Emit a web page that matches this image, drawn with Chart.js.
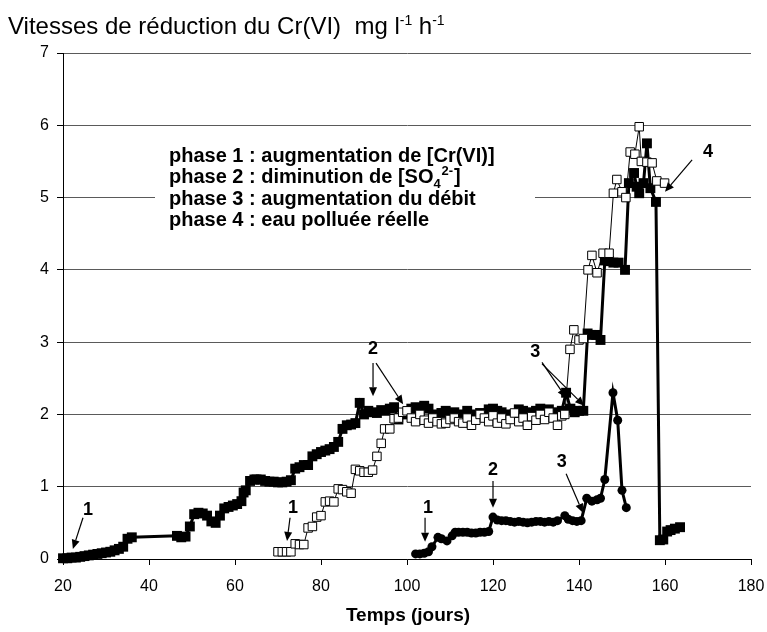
<!DOCTYPE html>
<html><head><meta charset="utf-8">
<script src="https://cdn.jsdelivr.net/npm/chart.js@4.4.1/dist/chart.umd.min.js"></script>
<style>html,body{margin:0;padding:0;background:#fff;}#wrap{width:767px;height:632px;position:relative;}</style>
</head><body><div id="wrap"><canvas id="c" width="767" height="632"></canvas></div>
<script>
// ---------- data ----------
const xTicks = [20, 40, 60, 80, 100, 120, 140, 160, 180];
const yTicks = [0, 1, 2, 3, 4, 5, 6, 7];

// series 1 : filled squares (thick line)
const filledDays = [20,21,22,23,24,25,26,27,28,29,30,31,32,33,34,35,36,
  46.5,47.5,48.5,49.5,50.5,51.5,52.5,53.5,54.5,55.5,56.5,57.5,58.5,59.5,60.5,61.5,62,62.5,63.5,64.5,
  65,66,67,68,69,70,71,72,73,74,75,76,77,78,79,80,81,82,83,84,85,86,87,88,89,90,91,92,93,94,95,96,97,98,99,
  100,101,102,103,104,105,106,107,108,109,110,111,112,113,114,115,116,117,118,119,120,
  121,122,123,124,125,126,127,128,129,130,131,132,133,134,135,136,137,138,139,140,141,
  142,143,144,145,146,147,148,149.2,150.7,151.6,152.8,153.4,154,155,155.8,156.6,157.9,
  158.8,159.6,160.5,161.3,162.3,163.5];
const filledRates = [0.01,0.01,0.02,0.02,0.03,0.04,0.05,0.06,0.07,0.08,0.09,0.1,0.12,0.14,0.17,0.28,0.3,
  0.32,0.3,0.31,0.45,0.62,0.64,0.63,0.6,0.52,0.5,0.6,0.7,0.72,0.74,0.76,0.8,0.92,0.95,1.08,1.1,
  1.1,1.1,1.08,1.07,1.07,1.06,1.06,1.07,1.09,1.25,1.27,1.3,1.3,1.42,1.45,1.48,1.5,1.52,1.55,1.62,1.8,1.85,1.86,1.88,2.16,2.0,2.05,2.03,2.02,2.06,2.05,2.08,2.1,1.93,2.0,
  2.02,2.08,2.1,2.05,2.12,2.08,2.0,1.97,2.02,2.05,2.0,2.03,1.98,2.0,2.05,1.97,2.0,2.02,1.98,2.07,2.08,
  2.05,2.03,2.0,1.98,2.0,2.07,2.05,2.03,1.97,2.05,2.08,2.02,2.07,2.03,2.02,2.05,2.3,2.08,2.03,2.05,2.05,
  3.12,3.1,3.1,3.03,4.13,4.12,4.1,4.1,4.0,5.2,5.34,5.15,5.06,5.2,5.75,5.13,4.94,
  0.26,0.27,0.38,0.4,0.42,0.44];

// series 2 : open squares (thin line)
const openDays = [70,71,72,73,74,75,76,77,78,79,80,81,82,83,84,85,86,87,88,89,90,91,92,93,94,94.8,96,97,98,99,
  100,101,102,103,104,105,106,107,108,109,110,111,112,113,114,115,116,117,118,119,120,
  121,122,123,124,125,126,127,128,129,130,131,132,133,134,135,136,136.7,
  137.9,138.8,140,141,142.1,143,144.2,145.6,147,148,148.8,150,150.9,151.9,153,154,154.5,155.8,157,158.1,159.9];
const openRates = [0.1,0.1,0.1,0.1,0.21,0.2,0.2,0.43,0.45,0.58,0.6,0.79,0.8,0.79,0.97,0.96,0.93,0.91,1.24,1.22,1.2,1.2,1.23,1.42,1.6,1.8,1.8,1.94,1.95,2.03,
  2.05,1.95,1.9,2.0,1.92,1.88,1.95,1.9,1.87,1.88,1.93,1.95,1.9,1.88,1.95,1.85,1.92,2.0,1.95,1.9,1.98,
  1.88,1.95,1.87,1.93,2.02,1.9,1.95,1.85,1.97,1.92,2.0,1.93,2.03,1.95,1.85,1.98,2.0,
  2.9,3.17,3.03,3.05,4.0,4.2,3.96,4.23,4.23,5.06,5.25,5.08,5.0,5.63,5.6,5.98,5.5,5.49,5.48,5.23,5.2];

// series 3 : filled circles
const circleDays = [102,103,104,105,105.8,107.2,108,109.3,110.5,111.2,112,113,114,115,116,117,118,119,
  120,121,122,123,124,125,126,127,128,129,130,131,132,133,134,135,136.7,137.5,138.5,139.5,140.5,
  141.8,143,144.2,145,146,147.9,149,150,151];
const circleRates = [0.07,0.07,0.08,0.1,0.17,0.3,0.28,0.25,0.32,0.37,0.37,0.37,0.37,0.36,0.36,0.37,0.37,0.38,
  0.58,0.54,0.53,0.53,0.52,0.51,0.52,0.51,0.5,0.51,0.52,0.52,0.51,0.52,0.51,0.53,0.6,0.55,0.53,0.52,0.53,
  0.84,0.8,0.82,0.84,1.1,2.3,1.92,0.95,0.71];

// phase annotations (label + arrows, in data coordinates)
const annotLabels = ['1','1','1','2','2','3','3','4'];
const annotX = [25.8, 73.5, 104.9, 92.1, 120, 129.8, 136, 170];
const annotY = [0.68, 0.71, 0.71, 2.9, 1.23, 2.86, 1.34, 5.63];
const annotArrows = [[24.65,0.57,22.3,0.14],[72.8,0.57,72.1,0.25],[104.2,0.57,104.2,0.24],
  [92.1,2.71,92.1,2.25],[92.8,2.71,99.1,2.14],[120,1.08,120,0.71],
  [131.4,2.72,137,2.23],[131.4,2.70,141.2,2.12],[137,1.18,140.9,0.64],[166.3,5.52,160,5.08]];

const FONT = '"Liberation Sans", Arial, sans-serif';
const pts = (xs, ys) => xs.map((x, i) => ({x: x, y: ys[i]}));

const decor = {
  id: 'decor',
  beforeDatasetsDraw(chart) {
    const ctx = chart.ctx;
    ctx.save();
    ctx.fillStyle = '#fff';
    ctx.fillRect(155, 140, 380, 92);
    ctx.fillStyle = '#000';
    ctx.textBaseline = 'alphabetic';
    ctx.textAlign = 'left';
    const bf = 'bold 20px ' + FONT;
    ctx.font = bf;
    const x0 = 169;
    ctx.fillText('phase 1 : augmentation de [Cr(VI)]', x0, 162);
    const t = 'phase 2 : diminution de [SO';
    ctx.fillText(t, x0, 183);
    const w = ctx.measureText(t).width;
    ctx.font = 'bold 13px ' + FONT;
    ctx.fillText('4', x0 + w, 188);
    ctx.fillText('2-', x0 + w + 8, 175);
    const w2 = ctx.measureText('2-').width;
    ctx.font = bf;
    ctx.fillText(']', x0 + w + 9 + w2, 183);
    ctx.fillText('phase 3 : augmentation du débit', x0, 205);
    ctx.fillText('phase 4 : eau polluée réelle', x0, 226);
    ctx.restore();
  },
  afterDraw(chart) {
    const ctx = chart.ctx;
    const xs = chart.scales.x, ys = chart.scales.y;
    ctx.save();
    ctx.fillStyle = '#000';
    ctx.textAlign = 'left';
    ctx.textBaseline = 'alphabetic';
    let x = 8;
    const base = 34;
    const parts = [['Vitesses de réduction du Cr(VI)  mg l', 0], ['-1', 1], [' h', 0], ['-1', 1]];
    for (const [s, sup] of parts) {
      ctx.font = (sup ? '14px ' : '24px ') + FONT;
      ctx.fillText(s, x, sup ? base - 9 : base);
      x += ctx.measureText(s).width;
    }
    ctx.font = 'bold 19px ' + FONT;
    ctx.textAlign = 'center';
    ctx.fillText('Temps (jours)', (xs.left + xs.right) / 2 + 1, 621);
    ctx.font = 'bold 18px ' + FONT;
    ctx.textBaseline = 'middle';
    annotLabels.forEach((l, i) => {
      ctx.fillText(l, xs.getPixelForValue(annotX[i]), ys.getPixelForValue(annotY[i]));
    });
    ctx.strokeStyle = '#000';
    ctx.lineWidth = 1.2;
    annotArrows.forEach(a => {
      const x1 = xs.getPixelForValue(a[0]), y1 = ys.getPixelForValue(a[1]);
      const x2 = xs.getPixelForValue(a[2]), y2 = ys.getPixelForValue(a[3]);
      const ang = Math.atan2(y2 - y1, x2 - x1);
      const L = 9, H = 4;
      const bx = x2 - L * Math.cos(ang), by = y2 - L * Math.sin(ang);
      ctx.beginPath(); ctx.moveTo(x1, y1); ctx.lineTo(bx, by); ctx.stroke();
      ctx.beginPath();
      ctx.moveTo(x2, y2);
      ctx.lineTo(bx + H * Math.sin(ang), by - H * Math.cos(ang));
      ctx.lineTo(bx - H * Math.sin(ang), by + H * Math.cos(ang));
      ctx.closePath(); ctx.fill();
    });
    ctx.restore();
  }
};

const bg = { id: 'bg', beforeDraw(c) { const g = c.ctx; g.save(); g.fillStyle = '#fff'; g.fillRect(0, 0, c.width, c.height); g.restore(); } };

new Chart(document.getElementById('c'), {
  type: 'scatter',
  data: {
    datasets: [
      { label: 'filled', data: pts(filledDays, filledRates), showLine: true, order: 2, clip: false,
        borderColor: '#000', borderWidth: 3, backgroundColor: '#000',
        pointStyle: 'rect', pointRadius: 7, pointBorderWidth: 0, pointBackgroundColor: '#000' },
      { label: 'open', data: pts(openDays, openRates), showLine: true, order: 1, clip: false,
        borderColor: '#000', borderWidth: 1, backgroundColor: '#fff',
        pointStyle: 'rect', pointRadius: 6, pointBorderWidth: 1, pointBorderColor: '#000', pointBackgroundColor: '#fff' },
      { label: 'circles', data: pts(circleDays, circleRates), showLine: true, order: 3, clip: false,
        borderColor: '#000', borderWidth: 3, backgroundColor: '#000',
        pointStyle: 'circle', pointRadius: 4.5, pointBorderWidth: 0, pointBackgroundColor: '#000' }
    ]
  },
  options: {
    responsive: false, animation: false, events: [],
    layout: { padding: { left: 0, right: 16, top: 53, bottom: 0 } },
    plugins: { legend: { display: false }, tooltip: { enabled: false } },
    scales: {
      x: {
        type: 'linear', min: 20, max: 180,
        afterBuildTicks: s => { s.ticks = xTicks.map(v => ({ value: v })); },
        afterFit: s => { s.height = 73; s.paddingLeft = 0; s.paddingRight = 0; },
        ticks: { color: '#000', font: { family: FONT, size: 16 }, padding: 12, maxRotation: 0 },
        grid: { drawOnChartArea: false, drawTicks: true, tickLength: 6, color: '#000' },
        border: { color: '#000', width: 1 }
      },
      y: {
        min: 0, max: 7,
        afterBuildTicks: s => { s.ticks = yTicks.map(v => ({ value: v })); },
        afterFit: s => { s.width = 63; s.paddingTop = 0; s.paddingBottom = 0; },
        ticks: { color: '#000', font: { family: FONT, size: 16 }, padding: 8 },
        grid: { color: '#5a5a5a', tickColor: '#000', tickLength: 6, lineWidth: 1 },
        border: { color: '#000', width: 1 }
      }
    }
  },
  plugins: [bg, decor]
});
</script></body></html>
